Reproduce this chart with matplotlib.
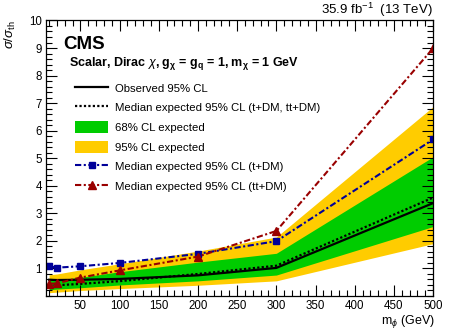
import numpy as np
import matplotlib
matplotlib.use("Agg")
import matplotlib.pyplot as plt
from matplotlib.lines import Line2D
from matplotlib.patches import Patch
from matplotlib.ticker import MultipleLocator

plt.rcParams['font.family'] = ['Liberation Sans', 'DejaVu Sans']
plt.rcParams['mathtext.fontset'] = 'custom'
plt.rcParams['mathtext.rm'] = 'Liberation Sans'
plt.rcParams['mathtext.it'] = 'Liberation Sans:italic'
plt.rcParams['mathtext.bf'] = 'Liberation Sans:bold'

# mediator mass points (GeV)
mass = [10, 20, 50, 100, 200, 300, 500]

# limits on sigma/sigma_th
observed = [0.59, 0.58, 0.59, 0.62, 0.75, 1.02, 3.37]
expected = [0.38, 0.39, 0.44, 0.54, 0.80, 1.10, 3.57]
band68_lo = [0.23, 0.25, 0.30, 0.40, 0.55, 0.76, 2.52]
band68_hi = [0.56, 0.58, 0.68, 0.88, 1.23, 1.55, 5.05]
band95_lo = [0.12, 0.14, 0.20, 0.27, 0.39, 0.55, 1.90]
band95_hi = [0.77, 0.80, 0.95, 1.17, 1.63, 2.14, 6.87]
exp_tDM = [1.08, 1.03, 1.08, 1.20, 1.53, 1.99, 5.68]
exp_ttDM = [0.44, 0.46, 0.67, 0.93, 1.43, 2.36, 8.99]

yellow = '#ffcc00'
green = '#00cc00'
blue = '#000099'
red = '#990000'

fig = plt.figure(figsize=(4.59, 3.30), dpi=100)
ax = fig.add_axes([0.1002, 0.103, 0.8432, 0.835])

ax.fill_between(mass, band95_lo, band95_hi, color=yellow, lw=0)
ax.fill_between(mass, band68_lo, band68_hi, color=green, lw=0)
ax.plot(mass, expected, color='black', lw=1.6, ls=(0, (1, 1)))
ax.plot(mass, observed, color='black', lw=1.6)
ax.plot(mass, exp_tDM, color=blue, lw=1.5, ls=(0, (3, 1.2, 1, 1.2)),
        marker='s', ms=5)
ax.plot(mass, exp_ttDM, color=red, lw=1.5, ls=(0, (3, 1.2, 1, 1.2)),
        marker='^', ms=5.5)

ax.set_xlim(6, 500)
ax.set_ylim(0, 10)
ax.xaxis.set_major_locator(MultipleLocator(50))
ax.xaxis.set_minor_locator(MultipleLocator(10))
ax.yaxis.set_major_locator(MultipleLocator(1))
ax.yaxis.set_minor_locator(MultipleLocator(0.2))
ax.tick_params(which='both', direction='in', top=True, right=True,
               labelsize=8.3, width=0.8)
ax.tick_params(which='major', length=8, pad=3)
ax.tick_params(which='minor', length=4)
ax.set_yticks(range(1, 11))
for s in ax.spines.values():
    s.set_linewidth(0.9)

ax.set_xlabel(r'm$_{\phi}$ (GeV)', fontsize=9, loc='right')
ax.xaxis.set_label_coords(1.005, -0.062)
ax.set_ylabel(r'$\sigma/\sigma_{\rm th}$', fontsize=9.5, loc='top')
ax.yaxis.set_label_coords(-0.072, 1.0)

ax.text(1.0, 1.0236, r'35.9 fb$^{-1}$  (13 TeV)', transform=ax.transAxes,
        ha='right', va='baseline', fontsize=9.5)
ax.text(0.044, 0.895, 'CMS', transform=ax.transAxes, ha='left',
        va='baseline', fontsize=13.5, fontweight='bold')
ax.text(0.059, 0.836,
        r'Scalar, Dirac $\chi$, g$_{\mathbf{\chi}}$ = g$_{\mathbf{q}}$ = 1, m$_{\mathbf{\chi}}$ = 1 GeV',
        transform=ax.transAxes, ha='left', va='baseline', fontsize=9,
        fontweight='bold')

handles = [
    Line2D([], [], color='black', lw=1.6),
    Line2D([], [], color='black', lw=1.6, ls=(0, (1, 1))),
    Patch(facecolor=green, edgecolor='none'),
    Patch(facecolor=yellow, edgecolor='none'),
    Line2D([], [], color=blue, lw=1.5, ls=(0, (3, 1.2, 1, 1.2)), marker='s', ms=5),
    Line2D([], [], color=red, lw=1.5, ls=(0, (3, 1.2, 1, 1.2)), marker='^', ms=5.5),
]
labels = [
    'Observed 95% CL',
    'Median expected 95% CL (t+DM, tt+DM)',
    '68% CL expected',
    '95% CL expected',
    'Median expected 95% CL (t+DM)',
    'Median expected 95% CL (tt+DM)',
]
ax.legend(handles, labels, loc='upper left', bbox_to_anchor=(0.075, 0.777),
          frameon=False, fontsize=8.2, handlelength=2.9, handleheight=1.23,
          labelspacing=0.68, handletextpad=0.6, borderpad=0, borderaxespad=0,
          markerfirst=True)

fig.savefig('out.png', dpi=100)
